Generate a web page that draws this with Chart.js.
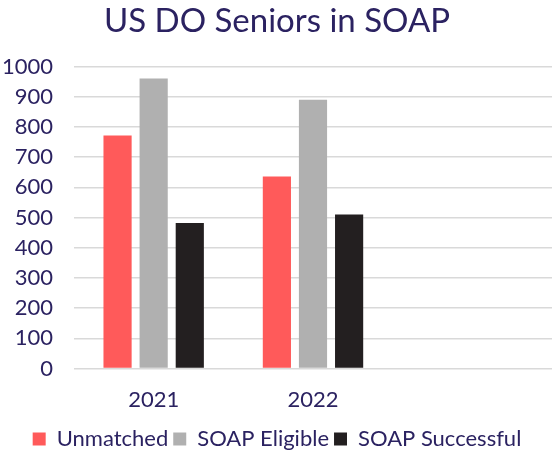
<!DOCTYPE html>
<html>
<head>
<meta charset="utf-8">
<script src="https://cdn.jsdelivr.net/npm/chart.js@4"></script>
<style>
  html, body { margin: 0; padding: 0; background: #fff; }
  #wrap { width: 552px; height: 460px; }
</style>
</head>
<body>
<div id="wrap"><canvas id="chart" width="552" height="460"></canvas></div>
<script>
const years = ['2021', '2022', ''];
const unmatched = [772, 636, null];
const soapEligible = [961, 890, null];
const soapSuccessful = [482, 510, null];

const textColor = '#2b2261';
const fontFamily = 'Lato, "Open Sans", sans-serif';

const ctx = document.getElementById('chart').getContext('2d');
new Chart(ctx, {
  type: 'bar',
  data: {
    labels: years,
    datasets: [
      { label: 'Unmatched', data: unmatched, backgroundColor: '#ff5a5a' },
      { label: 'SOAP Eligible', data: soapEligible, backgroundColor: '#b0b0b0' },
      { label: 'SOAP Successful', data: soapSuccessful, backgroundColor: '#231f20' },
    ],
  },
  options: {
    responsive: false,
    animation: false,
    categoryPercentage: 0.68,
    barPercentage: 0.78,
    layout: { padding: { left: 2, right: 0, top: 0, bottom: 0 } },
    plugins: {
      title: {
        display: true,
        text: 'US DO Seniors in SOAP',
        color: textColor,
        font: { family: fontFamily, size: 33, weight: 'normal' },
        padding: { top: 2, bottom: 25 },
      },
      legend: {
        position: 'bottom',
        labels: {
          color: textColor,
          font: { family: fontFamily, size: 22 },
          boxWidth: 13,
          boxHeight: 13,
          padding: 5,
        },
      },
      tooltip: { enabled: false },
    },
    scales: {
      x: {
        grid: { display: false },
        border: { display: false },
        ticks: { color: textColor, font: { family: fontFamily, size: 22 }, padding: 10 },
      },
      y: {
        min: 0,
        max: 1000,
        afterFit: (scale) => { scale.width = 72; },
        ticks: {
          stepSize: 100,
          color: textColor,
          font: { family: fontFamily, size: 22 },
          padding: 21,
          callback: (v) => String(v),
        },
        grid: { color: '#d9d9d9', lineWidth: 1.5, drawTicks: false },
        border: { display: false },
      },
    },
  },
});
</script>
</body>
</html>
